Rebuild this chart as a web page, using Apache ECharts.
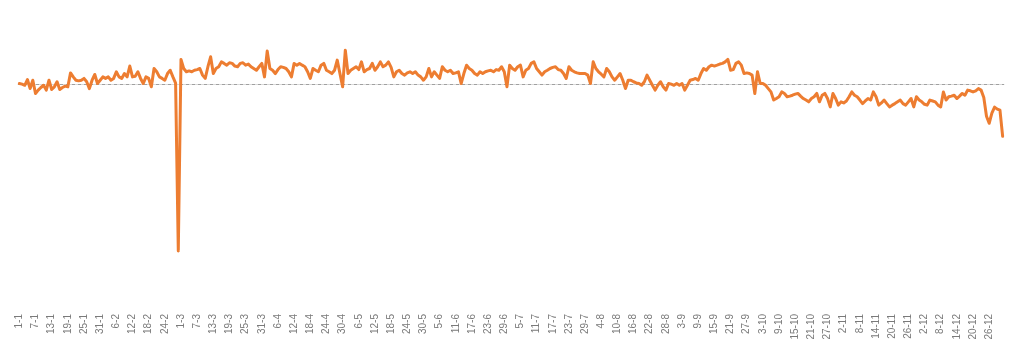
<!DOCTYPE html>
<html>
<head>
<meta charset="utf-8">
<script src="https://cdn.jsdelivr.net/npm/echarts@6/dist/echarts.min.js"></script>
<style>
html,body{margin:0;padding:0;background:#fff;}
#chart{width:1024px;height:356px;}
</style>
</head>
<body>
<div id="chart"></div>
<script>
// Year (leap year) month lengths used to name the daily categories "d-m"
const monthLengths = [31,29,31,30,31,30,31,31,30,31,30,31];
const categories = [];
monthLengths.forEach((n, m) => { for (let d = 1; d <= n; d++) categories.push(d + '-' + (m + 1)); });

// Daily values (deviation from baseline)
const values = [
  0.3, 0, -0.5, 2.1, -2.0, 1.8, -4.2, -2.7, -1.5, -0.5,
  -2.7, 1.8, -2.4, -1.2, 1.1, -2.4, -1.5, -0.9, -1.2, 5.1,
  3.3, 1.8, 1.5, 1.8, 2.6, 1.1, -2.0, 1.8, 4.4, 0.3,
  1.8, 3.3, 2.6, 3.3, 1.8, 2.6, 5.6, 3.3, 2.6, 4.8,
  3.3, 8.2, 3.3, 3.6, 5.6, 2.6, 0.3, 3.3, 2.6, -1.2,
  7.1, 5.6, 3.3, 2.6, 1.8, 4.8, 6.3, 3.3, 0.5, -75.5,
  11.2, 7.1, 5.6, 6.0, 5.6, 6.3, 6.6, 7.1, 4.1, 2.6,
  7.9, 12.4, 4.8, 7.1, 7.9, 10.1, 9.4, 8.6, 9.7, 9.4,
  8.2, 7.9, 9.4, 9.7, 8.6, 9.1, 7.9, 7.1, 6.3, 7.9,
  9.4, 3.3, 15.0, 7.1, 6.3, 4.8, 6.6, 7.9, 7.6, 7.1,
  5.6, 3.3, 9.4, 8.6, 9.4, 8.6, 7.9, 5.6, 2.6, 7.1,
  6.3, 5.6, 8.6, 9.4, 6.3, 5.6, 4.8, 6.3, 10.9, 4.8,
  -1.2, 15.4, 4.8, 6.3, 7.1, 7.9, 6.6, 10.1, 5.6, 6.6,
  7.1, 9.4, 6.3, 7.9, 10.1, 7.9, 8.6, 10.1, 7.6, 3.3,
  5.6, 6.3, 4.8, 4.1, 5.1, 5.6, 4.8, 5.6, 4.1, 3.3,
  1.8, 3.3, 7.1, 3.3, 5.6, 4.1, 2.6, 7.9, 6.3, 5.6,
  6.3, 4.8, 5.1, 5.6, 0.3, 4.8, 8.6, 7.1, 6.3, 4.8,
  4.1, 5.6, 4.8, 5.6, 6.0, 6.3, 5.6, 6.6, 6.3, 7.9,
  5.6, -1.2, 8.6, 7.1, 6.3, 7.9, 8.6, 3.3, 6.3, 7.1,
  9.4, 10.1, 7.1, 5.6, 4.1, 5.6, 6.3, 7.1, 7.6, 7.9,
  6.6, 6.3, 4.8, 2.6, 7.9, 6.3, 5.6, 5.1, 4.8, 4.8,
  4.8, 4.1, 0.3, 10.1, 7.1, 5.6, 4.5, 3.3, 7.1, 5.6,
  3.3, 1.8, 3.3, 4.8, 1.8, -2.0, 1.8, 1.8, 1.1, 0.6,
  0.3, -0.5, 1.1, 4.1, 1.8, -0.5, -2.7, -0.5, 1.1, -1.2,
  -2.7, 0.3, 0, -0.5, 0.3, -0.5, 0.3, -2.7, -0.5, 1.8,
  2.1, 2.6, 1.8, 4.8, 7.1, 6.3, 7.9, 8.6, 8.2, 8.6,
  9.1, 9.4, 10.1, 11.2, 6.3, 6.6, 9.4, 10.1, 8.6, 4.8,
  5.1, 4.8, 4.1, -4.2, 5.6, 0.3, 0.3, -0.5, -2.0, -3.5,
  -7.2, -6.5, -5.7, -3.5, -4.2, -5.7, -5.4, -5.0, -4.5, -4.2,
  -5.4, -6.5, -7.2, -8.0, -6.5, -5.7, -4.2, -8.0, -5.0, -4.2,
  -6.5, -10.3, -4.2, -6.5, -9.5, -8.0, -8.5, -7.6, -5.7, -3.5,
  -5.0, -5.7, -7.2, -8.8, -7.6, -6.5, -7.2, -3.5, -5.7, -9.5,
  -8.5, -7.2, -8.8, -10.3, -9.5, -8.8, -8.0, -7.2, -8.8, -9.5,
  -8.0, -6.5, -10.3, -5.7, -7.2, -8.0, -9.1, -9.5, -7.2, -7.6,
  -8.0, -9.5, -10.3, -3.5, -7.2, -5.7, -5.4, -5.0, -6.5, -5.4,
  -4.2, -5.0, -2.7, -3.0, -3.5, -3.0, -2.0, -2.7, -6.0, -14.5,
  -17.7, -13.1, -10.4, -11.3, -11.8, -23.6
];

// Reference (baseline) level drawn as dashed line
const baseline = 0;

const chart = echarts.init(document.getElementById('chart'), null, {renderer: 'canvas'});
chart.setOption({
  animation: false,
  backgroundColor: '#ffffff',
  grid: {left: 18, right: 20, top: 40, bottom: 51, containLabel: false},
  xAxis: {
    type: 'category',
    data: categories,
    boundaryGap: true,
    axisLine: {show: true, lineStyle: {color: '#d9d9d9', width: 1}},
    axisTick: {show: false},
    splitLine: {show: false},
    axisLabel: {
      interval: 5,
      rotate: 90,
      margin: 9,
      fontSize: 10,
      fontFamily: 'Liberation Sans, Arial, sans-serif',
      color: '#7a7a7a'
    }
  },
  yAxis: {
    type: 'value',
    min: -100,
    max: 20,
    show: false,
    splitLine: {show: false}
  },
  series: [{
    type: 'line',
    data: values,
    symbol: 'none',
    smooth: false,
    lineStyle: {color: '#ed7d31', width: 3, join: 'round', cap: 'round'},
    itemStyle: {color: '#ed7d31'},
    z: 3,
    markLine: {
      silent: true,
      symbol: ['none', 'none'],
      label: {show: false},
      lineStyle: {color: '#a0a0a0', type: [3, 3], width: 1},
      data: [{yAxis: baseline}],
      z: 1
    }
  }]
});
</script>
</body>
</html>
